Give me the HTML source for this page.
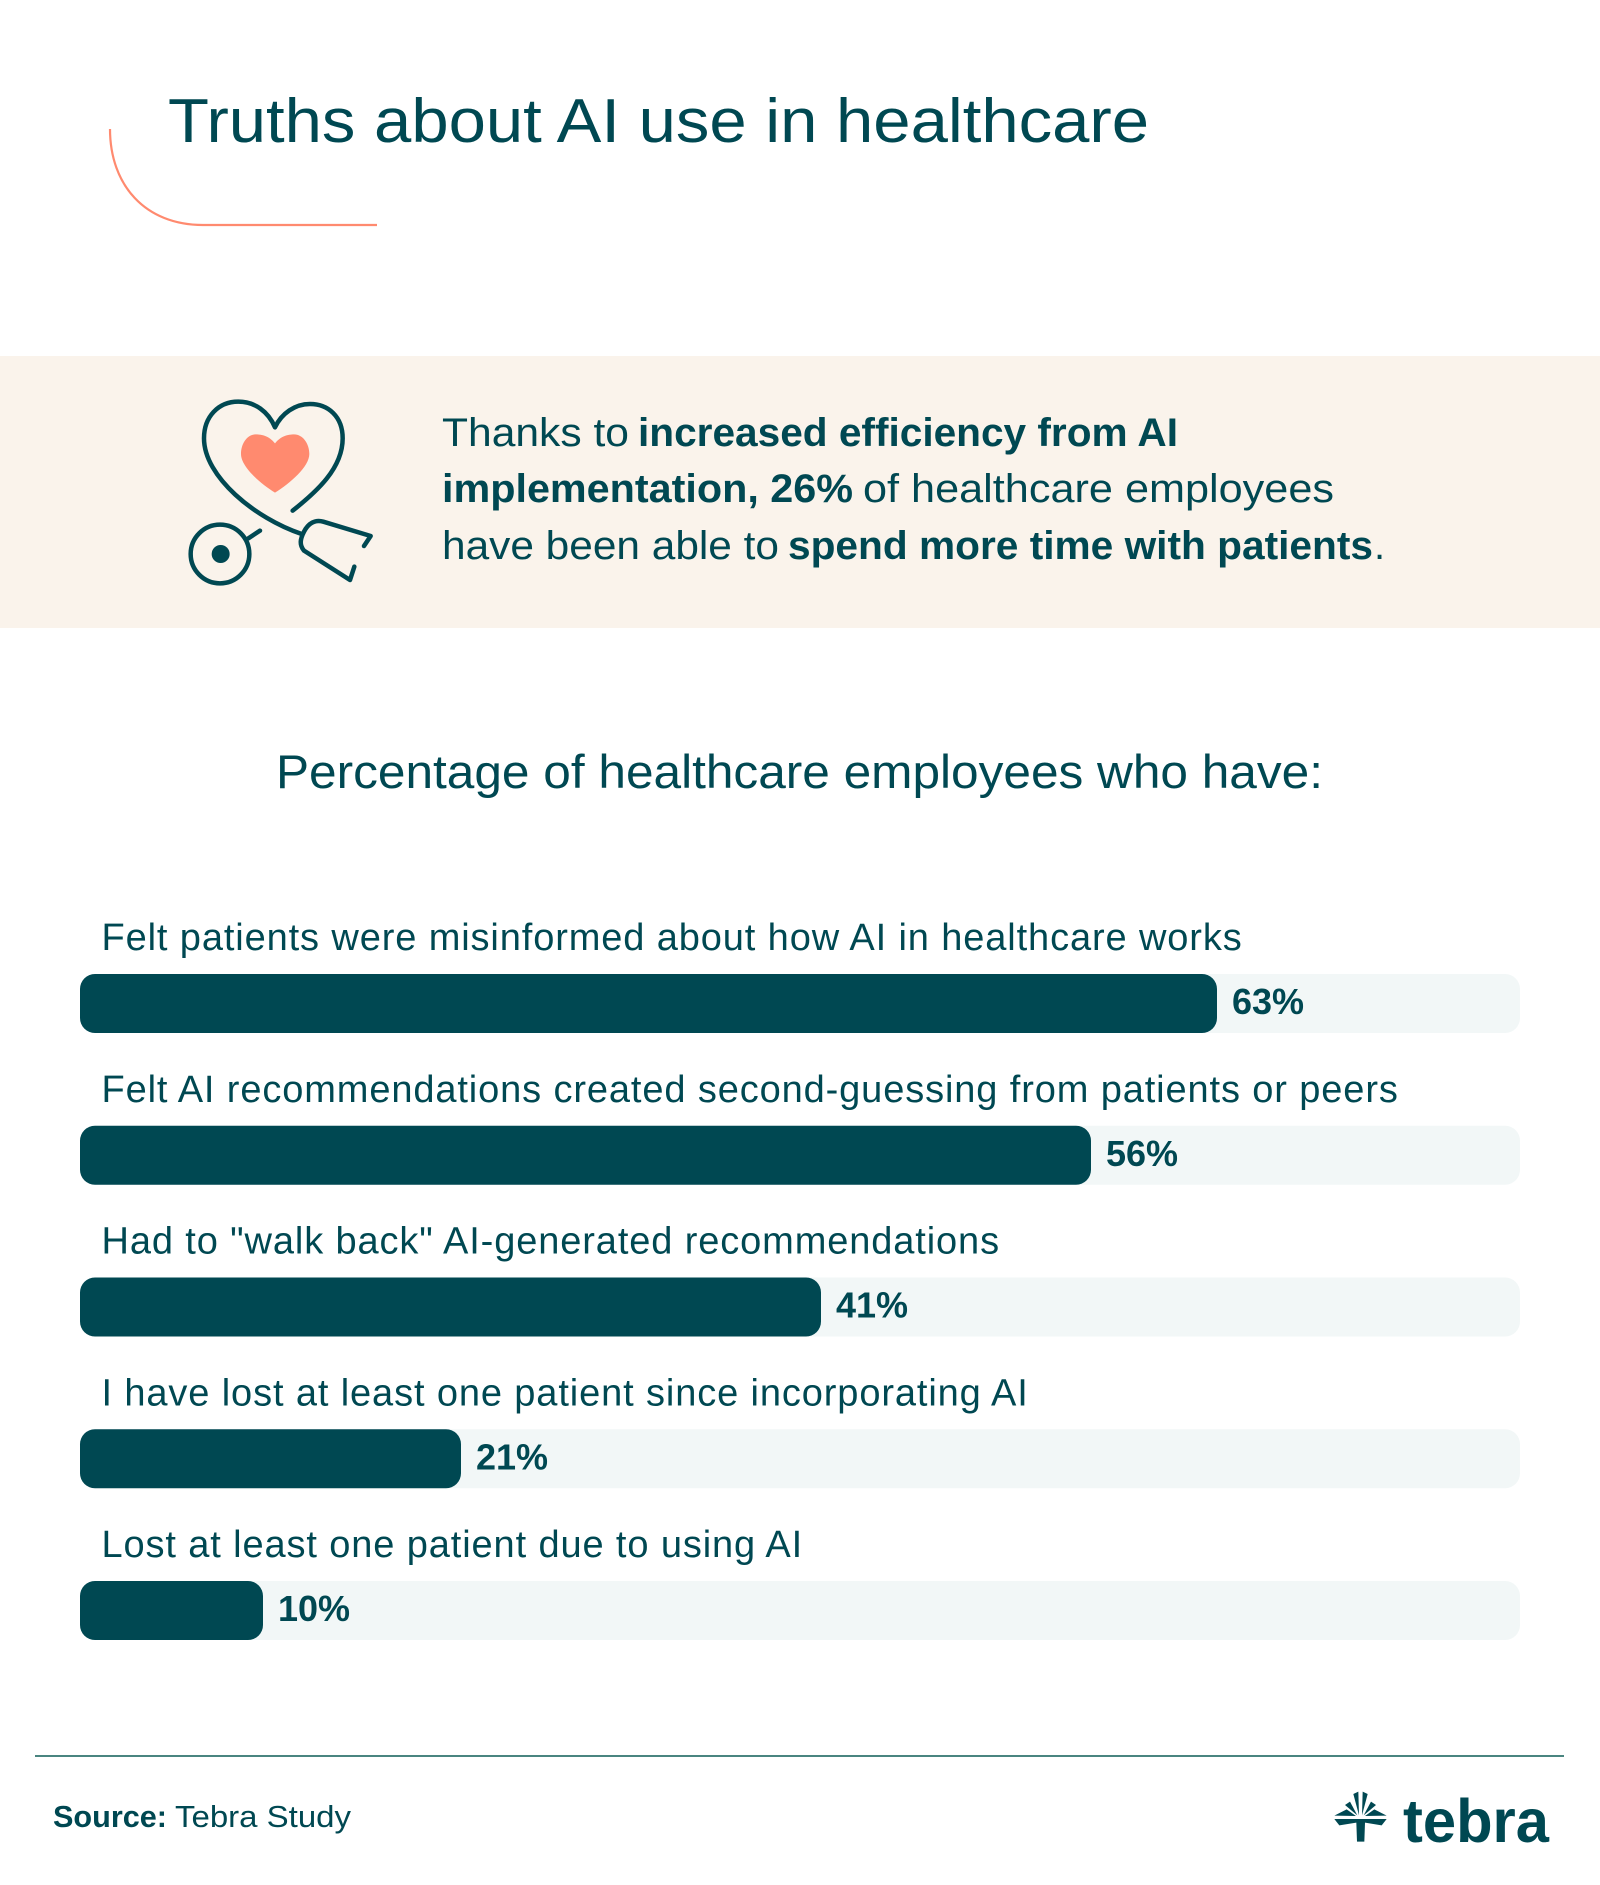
<!DOCTYPE html>
<html lang="en">
<head>
<meta charset="utf-8">
<title>Truths about AI use in healthcare</title>
<style>
html,body{margin:0;padding:0;background:#fff;}
svg{display:block;}
text{font-family:"Liberation Sans",Arial,sans-serif;fill:#004852;}
</style>
</head>
<body>
<svg id="chart" width="1600" height="1885" viewBox="0 0 1600 1885" xmlns="http://www.w3.org/2000/svg">
  <rect x="0" y="0" width="1600" height="1885" fill="#ffffff"/>
  <text x="168" y="142" font-size="62" textLength="981" lengthAdjust="spacingAndGlyphs">Truths about AI use in healthcare</text>
  <path d="M110 129 C110 185 145 225 203 225 L377 225" fill="none" stroke="#ff8a6f" stroke-width="2.2"/>

  <rect x="0" y="356" width="1600" height="272" fill="#faf3eb"/>
  <g transform="translate(160 380) scale(.33333)">
    <path d="M345 190 C328 168 305 163 288 163 C262 163 243 190 243 222 C243 260 300 310 345 338 C390 310 448 260 448 222 C448 190 428 163 402 163 C385 163 362 168 345 190Z" fill="#ff8a6f"/>
    <g fill="none" stroke="#004852" stroke-width="13.5" stroke-linecap="round" stroke-linejoin="round">
      <path d="M398 392 C470 335 548 265 548 175 C548 110 505 72 450 72 C405 72 365 100 345 142 C325 95 285 65 235 65 C175 65 132 110 132 175 C132 290 285 415 425 462"/>
      <path d="M612 498 L632 468 L490 425 C465 418 445 430 432 455 C420 478 418 495 432 512 L570 600 L583 560"/>
      <circle cx="180" cy="522" r="88"/>
      <path d="M265 475 L300 452"/>
    </g>
    <circle cx="182" cy="522" r="27" fill="#004852"/>
  </g>
  <g font-size="40">
    <text x="442" y="446" textLength="187" lengthAdjust="spacingAndGlyphs">Thanks to</text>
    <text x="638" y="446" font-weight="700" textLength="540" lengthAdjust="spacingAndGlyphs">increased efficiency from AI</text>
    <text x="442" y="502" font-weight="700" textLength="411" lengthAdjust="spacingAndGlyphs">implementation, 26%</text>
    <text x="863" y="502" textLength="471" lengthAdjust="spacingAndGlyphs">of healthcare employees</text>
    <text x="442" y="559" textLength="337" lengthAdjust="spacingAndGlyphs">have been able to</text>
    <text x="788" y="559" font-weight="700" textLength="585" lengthAdjust="spacingAndGlyphs">spend more time with patients</text>
    <text x="1374" y="559">.</text>
  </g>

  <text x="276" y="788" font-size="47" textLength="1047" lengthAdjust="spacingAndGlyphs">Percentage of healthcare employees who have:</text>

  <g id="bars"></g>

  <line x1="35" y1="1756" x2="1564" y2="1756" stroke="#4a8580" stroke-width="2"/>
  <text x="53" y="1827" font-size="31" font-weight="700" textLength="114" lengthAdjust="spacingAndGlyphs">Source:</text>
  <text x="175" y="1827" font-size="31" textLength="176" lengthAdjust="spacingAndGlyphs">Tebra Study</text>

  <g>
    <g transform="translate(1300 1740) scale(.33333)" fill="#004852">
      <path d="M103 237 L260 237 L245 256 L195 248 L193 305 L171 305 L169 248 L118 256Z"/>
      <path d="M103 227 L140 208 L168 228Z"/>
      <path d="M135 195 L150 185 L172 226Z"/>
      <path d="M160 162 L175 155 L177 226Z"/>
      <path d="M260 227 L223 208 L195 228Z"/>
      <path d="M228 195 L213 185 L191 226Z"/>
      <path d="M203 162 L188 155 L186 226Z"/>
    </g>
    <text x="1403" y="1842" font-size="61" font-weight="700" textLength="146" lengthAdjust="spacingAndGlyphs">tebra</text>
  </g>
</svg>
<script>
const categories = [
  'Felt patients were misinformed about how AI in healthcare works',
  'Felt AI recommendations created second-guessing from patients or peers',
  'Had to "walk back" AI-generated recommendations',
  'I have lost at least one patient since incorporating AI',
  'Lost at least one patient due to using AI'
];
const seriesValues = [63, 56, 41, 21, 10];

const NS = 'http://www.w3.org/2000/svg';
const TRACK_X = 80, TRACK_W = 1440, BAR_H = 59, FIRST_TOP = 974, PITCH = 151.75;
function barWidth(v) { return 3 + 18 * v; }
function rowTop(i) { return FIRST_TOP + PITCH * i; }

const root = document.getElementById('bars');
categories.forEach(function (cat, i) {
  const v = seriesValues[i];
  const top = rowTop(i);

  const label = document.createElementNS(NS, 'text');
  
  
  label.setAttribute('x', 101.5);
  label.setAttribute('y', top - 24);
  label.setAttribute('font-size', 38);
  label.setAttribute('letter-spacing', '0.88');
  label.textContent = cat;
  root.appendChild(label);

  const track = document.createElementNS(NS, 'rect');
  
  
  track.setAttribute('x', TRACK_X);
  track.setAttribute('y', top);
  track.setAttribute('width', TRACK_W);
  track.setAttribute('height', BAR_H);
  track.setAttribute('rx', 15);
  track.setAttribute('fill', '#f2f7f7');
  root.appendChild(track);

  const bar = document.createElementNS(NS, 'rect');
  
  
  bar.setAttribute('x', TRACK_X);
  bar.setAttribute('y', top);
  bar.setAttribute('width', barWidth(v));
  bar.setAttribute('height', BAR_H);
  bar.setAttribute('rx', 15);
  bar.setAttribute('fill', '#004852');
  root.appendChild(bar);

  const val = document.createElementNS(NS, 'text');
  
  
  val.setAttribute('x', TRACK_X + barWidth(v) + 15);
  val.setAttribute('y', top + 40);
  val.setAttribute('font-size', 36);
  val.setAttribute('font-weight', '700');
  val.textContent = v + '%';
  root.appendChild(val);
});
</script>
</body>
</html>
